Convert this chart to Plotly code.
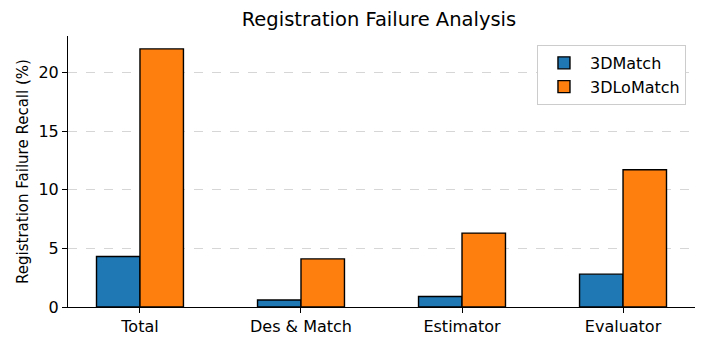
import plotly.graph_objects as go

categories = ["Total", "Des & Match", "Estimator", "Evaluator"]
match_3d = [4.3, 0.6, 0.9, 2.8]
lomatch_3d = [22.0, 4.1, 6.3, 11.7]

fig = go.Figure()
fig.add_trace(go.Bar(x=categories, y=match_3d, name="3DMatch",
                     marker=dict(color="#1f77b4", line=dict(color="black", width=1.4))))
fig.add_trace(go.Bar(x=categories, y=lomatch_3d, name="3DLoMatch",
                     marker=dict(color="#ff7f0e", line=dict(color="black", width=1.4))))

font = "DejaVu Sans, Arial, sans-serif"
fig.update_layout(
    width=707, height=347,
    margin=dict(l=68, r=12, t=36, b=40, autoexpand=False),
    barmode="group", bargap=0.46, bargroupgap=0,
    plot_bgcolor="white", paper_bgcolor="white",
    font=dict(family=font, size=16, color="black"),
    title=dict(text="Registration Failure Analysis", x=0.536, xanchor="center",
               y=0.945, yanchor="middle", font=dict(size=19.5)),
    legend=dict(x=0.9856, y=0.967, xanchor="right", yanchor="top",
                bordercolor="#cccccc", borderwidth=1, bgcolor="white",
                itemwidth=42, font=dict(size=16)),
    showlegend=True,
)
fig.update_xaxes(range=[-0.447, 3.447], showline=True, linecolor="black", linewidth=1,
                 ticks="outside", ticklen=5, tickcolor="black", showgrid=False,
                 automargin=False)
fig.update_yaxes(range=[0, 23.1], showline=True, linecolor="black", linewidth=1,
                 ticks="outside", ticklen=5, tickcolor="black", tickvals=[0, 5, 10, 15, 20],
                 showgrid=True, gridcolor="#d6d6d6", griddash="dash", gridwidth=1,
                 zeroline=False, automargin=False,
                 title=dict(text="Registration Failure Recall (%)", standoff=6,
                            font=dict(size=15)))

# drop the browser's default 8px body margin so the figure sits at the page corner
fig.write_html("out.html", config={"displayModeBar": False},
               post_script="document.body.style.margin='0';")
